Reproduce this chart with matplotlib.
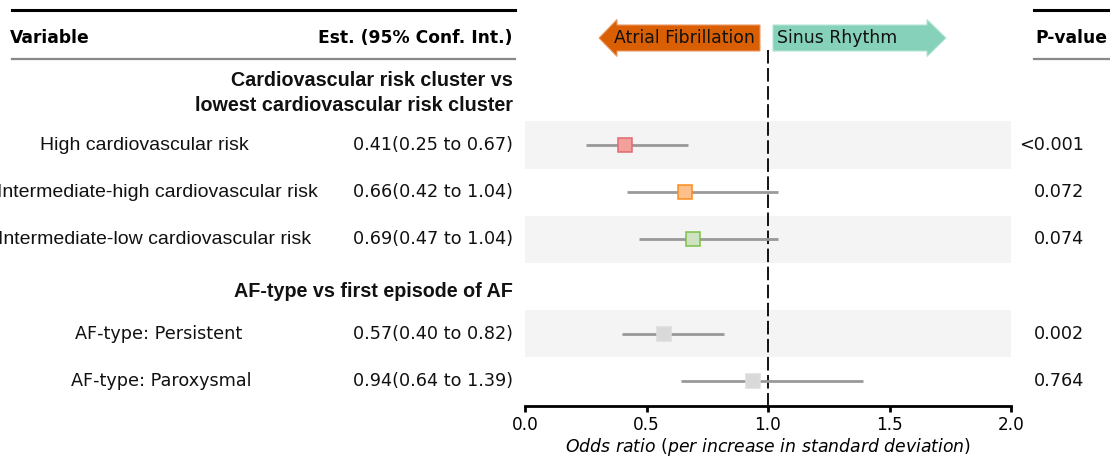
import matplotlib
matplotlib.use("Agg")
import matplotlib.pyplot as plt
from matplotlib.patches import FancyArrow, Rectangle
from matplotlib.lines import Line2D
from matplotlib.transforms import blended_transform_factory

# ---------------- data ----------------
group_headers = ["Cardiovascular risk cluster vs\nlowest cardiovascular risk cluster",
                 "AF-type vs first episode of AF"]
labels = ["High cardiovascular risk",
          "Intermediate-high cardiovascular risk",
          "Intermediate-low cardiovascular risk",
          "AF-type: Persistent",
          "AF-type: Paroxysmal"]
estimates = [0.41, 0.66, 0.69, 0.57, 0.94]
ci_low = [0.25, 0.42, 0.47, 0.40, 0.64]
ci_high = [0.67, 1.04, 1.04, 0.82, 1.39]
p_values = ["<0.001", "0.072", "0.074", "0.002", "0.764"]
x_ticks = [0.0, 0.5, 1.0, 1.5, 2.0]

# ---------------- styling ----------------
row_pos = [0, 1, 2, 4, 5]          # row index of each estimate
header_pos = [-1.10, 3.11]
shaded = [0, 2, 3]                 # label indices with grey band
face_colors = ["#f4a09a", "#fdc08c", "#cfe2c2", "#d9d9d9", "#d9d9d9"]
edge_colors = ["#e06a72", "#ff8c1a", "#7cc043", "#dcdcdc", "#dcdcdc"]
label_fonts = ["Liberation Sans"] * 3 + ["DejaVu Sans"] * 2
label_sizes = [14, 14, 14, 12.7, 12.7]
label_x = [144, 157, 155, 159, 161]

W, H = 1110, 457
fig = plt.figure(figsize=(W / 100, H / 100), dpi=100)
ax = fig.add_axes([525 / W, (H - 406) / H, 486 / W, 406 / H])

row_h = 47.2
y_bottom = (406 - 145) / row_h
y_top = (0 - 145) / row_h
ax.set_xlim(0, 2)
ax.set_ylim(y_bottom, y_top)

def py(pix):
    return (pix - 145) / row_h

# shaded bands
for i in shaded:
    y = row_pos[i]
    ax.add_patch(Rectangle((0, y - 0.5), 2, 1.0, facecolor="#f4f4f4",
                           edgecolor="none", zorder=0))

# reference line
ax.vlines(1.0, py(50), y_bottom, colors="black", linewidth=1.3,
          linestyles=(0, (7.5, 2.5)), zorder=1)

# CI lines and markers
for i in range(len(labels)):
    y = row_pos[i]
    ax.plot([ci_low[i], ci_high[i]], [y, y], color="#999999", linewidth=2.0,
            solid_capstyle="butt", zorder=2)
    ax.plot([estimates[i]], [y], marker="s", markersize=9.4,
            markerfacecolor=face_colors[i], markeredgecolor=edge_colors[i],
            markeredgewidth=1.1, linestyle="none", zorder=3)

# direction arrows
ya = py(38)
def xd(pix):
    return (pix - 525) / 243.0
af_tail, af_tip = xd(760), xd(599)
ax.add_patch(FancyArrow(af_tail, ya, af_tip - af_tail, 0, width=26 / row_h,
                        head_width=37 / row_h, head_length=18 / 243.0,
                        length_includes_head=True, facecolor="#d95f02",
                        edgecolor="#ec9a66", linewidth=0.8, zorder=4))
sr_tail, sr_tip = xd(773), xd(946)
ax.add_patch(FancyArrow(sr_tail, ya, sr_tip - sr_tail, 0, width=26 / row_h,
                        head_width=37 / row_h, head_length=19 / 243.0,
                        length_includes_head=True, facecolor="#86d1b9",
                        edgecolor="#b6e4d4", linewidth=0.8, zorder=4))
ax.text(xd(755), ya, "Atrial Fibrillation", ha="right", va="center",
        fontsize=12.4, family="DejaVu Sans", color="#111111", zorder=5)
ax.text(xd(777), ya, "Sinus Rhythm", ha="left", va="center",
        fontsize=12.4, family="DejaVu Sans", color="#111111", zorder=5)

# axes styling
for s in ["top", "right", "left"]:
    ax.spines[s].set_visible(False)
ax.spines["bottom"].set_linewidth(2.0)
ax.set_yticks([])
ax.set_xticks(x_ticks)
ax.set_xticklabels([f"{t:.1f}" for t in x_ticks])
ax.tick_params(axis="x", direction="out", length=4.5, width=2.0,
               labelsize=12.2, pad=3)
ax.set_xlabel(r"$\it{Odds\ ratio}$ ($\it{per\ increase\ in\ standard\ deviation}$)",
              fontsize=12.4, labelpad=1)

# text columns
tr = blended_transform_factory(fig.transFigure, ax.transData)
for i in range(len(labels)):
    y = row_pos[i]
    ax.text(label_x[i] / W, y, labels[i], transform=tr, ha="center", va="center",
            fontsize=label_sizes[i], family=label_fonts[i], color="#111111")
    est_txt = f"{estimates[i]:.2f}({ci_low[i]:.2f} to {ci_high[i]:.2f})"
    ax.text(513 / W, y, est_txt, transform=tr, ha="right", va="center",
            fontsize=12.7, family="DejaVu Sans", color="#111111")
    ax.text(1084 / W, y, p_values[i], transform=tr, ha="right", va="center",
            fontsize=12.7, family="DejaVu Sans", color="#111111")

for h, y in zip(group_headers, header_pos):
    ax.text(513 / W, y, h, transform=tr, ha="right", va="center",
            fontsize=14.2, family="Liberation Sans", fontweight="bold",
            linespacing=1.45, color="#111111")

# column headers
yh = py(38)
ax.text(10 / W, yh, "Variable", transform=tr, ha="left", va="center",
        fontsize=12.3, fontweight="bold", family="DejaVu Sans")
ax.text(513 / W, yh, "Est. (95% Conf. Int.)", transform=tr, ha="right",
        va="center", fontsize=12.3, fontweight="bold", family="DejaVu Sans")
ax.text(1035 / W, yh, "P-value", transform=tr, ha="left", va="center",
        fontsize=12.3, fontweight="bold", family="DejaVu Sans")

def hline(x0, x1, ypix, color, lw):
    fig.add_artist(Line2D([x0 / W, x1 / W], [1 - ypix / H, 1 - ypix / H],
                          transform=fig.transFigure, color=color, linewidth=lw))

hline(12, 515, 9.5, "black", 2.2)
hline(12, 515, 59, "#888888", 1.6)
hline(1034, 1110, 9.5, "black", 2.2)
hline(1034, 1110, 59, "#888888", 1.6)

fig.savefig("out.png", dpi=100)
